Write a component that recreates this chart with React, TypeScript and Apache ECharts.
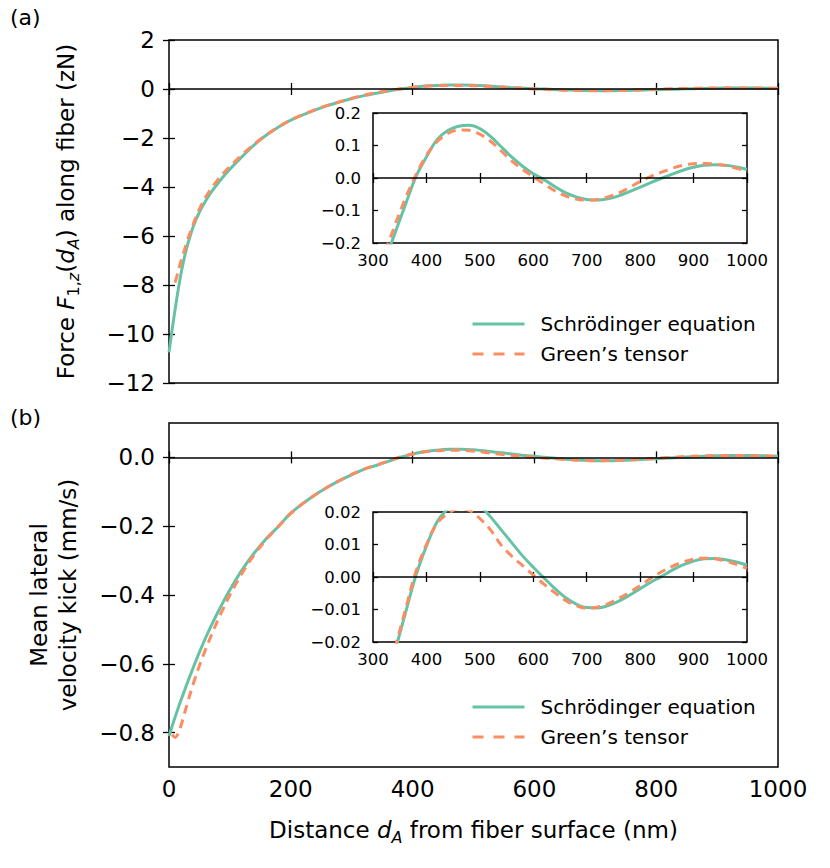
import React, { useEffect, useRef } from "react";
import * as echarts from "echarts";

// Distance from fiber surface (nm)
const distance = [
  0, 5, 10, 15, 20, 25, 30, 40, 50, 60, 70, 80, 90, 100, 120, 140, 160, 180, 200, 230,
  260, 290, 320, 340, 360, 380, 400, 420, 440, 460, 480, 500, 520, 540, 560, 580, 600,
  620, 640, 660, 680, 700, 720, 740, 760, 780, 800, 820, 840, 860, 880, 900, 920, 940,
  960, 980, 1000,
];

// Panel (a): force F_{1,z}(d_A) (zN)
const forceSchrodinger = [
  -10.75, -9.85, -9.0, -8.2, -7.5, -6.9, -6.4, -5.6, -5.02, -4.57, -4.19, -3.86, -3.55,
  -3.27, -2.76, -2.28, -1.88, -1.55, -1.27, -0.95, -0.68, -0.46,
  -0.27, -0.175, -0.085, 0.003, 0.065, 0.118, 0.146, 0.159, 0.162, 0.152, 0.128, 0.096,
  0.064, 0.036, 0.013, -0.005, -0.026, -0.045, -0.058, -0.066, -0.068, -0.064, -0.055,
  -0.042, -0.028, -0.014, -0.001, 0.012, 0.024, 0.033, 0.039, 0.041, 0.039, 0.034, 0.027,
];
const forceGreen = [
  null, null, -7.9, -7.45, -7.0, -6.6, -6.2, -5.5, -4.9, -4.42, -4.04, -3.71, -3.42,
  -3.16, -2.68, -2.25, -1.87, -1.54, -1.26, -0.94, -0.67, -0.45,
  -0.245, -0.15, -0.065, 0.008, 0.07, 0.112, 0.137, 0.148, 0.147, 0.135, 0.113, 0.083,
  0.052, 0.026, 0.004, -0.018, -0.039, -0.055, -0.065, -0.068, -0.066, -0.058, -0.046,
  -0.029, -0.011, 0.005, 0.018, 0.03, 0.039, 0.044, 0.045, 0.043, 0.038, 0.03, 0.021,
];

// Panel (b): mean lateral velocity kick (mm/s)
const kickSchrodinger = [
  -0.81, -0.782, -0.755, -0.729, -0.704, -0.68, -0.656, -0.61, -0.566, -0.525, -0.487,
  -0.451, -0.417, -0.385, -0.327, -0.278, -0.236, -0.2, -0.162, -0.121, -0.087, -0.059,
  -0.035, -0.0235, -0.0115, 0.0003, 0.0095, 0.017, 0.021, 0.0235, 0.024, 0.022, 0.0185,
  0.0145, 0.0105, 0.0065, 0.003, -0.0003, -0.0035, -0.0063, -0.0083, -0.0094, -0.0095,
  -0.0088, -0.0074, -0.0056, -0.0036, -0.0016, 0.0002, 0.0021, 0.0037, 0.0049, 0.0056,
  0.0057, 0.0053, 0.0046, 0.0037,
];
const kickGreen = [
  null, -0.806, -0.814, -0.803, -0.778, -0.747, -0.716, -0.657, -0.605, -0.558, -0.515,
  -0.474, -0.436, -0.4, -0.337, -0.283, -0.238, -0.2, -0.163, -0.121, -0.087, -0.058,
  -0.034, -0.0225, -0.0105, 0.0015, 0.01, 0.0165, 0.0195, 0.021, 0.0205, 0.018, 0.0145,
  0.0098, 0.0064, 0.0035, 0.0006, -0.0022, -0.0048, -0.0072, -0.0088, -0.0096, -0.0093,
  -0.0082, -0.0066, -0.0047, -0.0027, -0.0004, 0.0016, 0.0033, 0.0046, 0.0055, 0.0058,
  0.0056, 0.0049, 0.0039, 0.0027,
];

const seriesNames = ["Schrödinger equation", "Green’s tensor"];
const kickTickValues = [0, -0.2, -0.4, -0.6, -0.8];

const FONT = "DejaVu Sans";
const GREEN = "#66c2a5";
const ORANGE = "#fc8d62";

const fmt = (digits: number) => (v: number) =>
  (Math.abs(v) < 1e-9 ? 0 : v).toFixed(digits).replace("-", "\u2212");

const tick = (len: number) => ({
  show: true,
  inside: true,
  length: len,
  lineStyle: { color: "#000", width: 1.3 },
});

function axisPair(
  kind: "x" | "y",
  grid: number,
  min: number,
  max: number,
  interval: number | null,
  showLabels: boolean,
  fontSize: number,
  tickLen: number,
  margin: number,
  digits: number,
  custom?: number[]
) {
  const positions = kind === "x" ? ["bottom", "top"] : ["left", "right"];
  return positions.map((position, k) => {
    const ax: any = {
      type: "value",
      gridIndex: grid,
      position,
      min,
      max,
      axisLine: { show: false },
      splitLine: { show: false },
      axisTick: tick(tickLen),
      axisLabel: {
        show: k === 0 && showLabels,
        fontSize,
        fontFamily: FONT,
        color: "#000",
        margin,
        hideOverlap: false,
        formatter: fmt(digits),
      },
    };
    if (interval !== null) ax.interval = interval;
    if (custom) {
      ax.axisTick.customValues = custom;
      ax.axisLabel.customValues = custom;
    }
    return ax;
  });
}

const pairs = (ys: (number | null)[], minD = 0) =>
  distance
    .map((d, i) => [d, ys[i]])
    .filter((p) => p[1] !== null && (p[0] as number) >= minD);

const zeroLine = {
  silent: true,
  symbol: ["none", "none"],
  label: { show: false },
  lineStyle: { color: "#000", width: 1.5, type: "solid" },
  data: [{ yAxis: 0 }],
};

function lineSeries(name: string, data: any[], axisIndex: number, withZero: boolean) {
  const isGreen = name === seriesNames[0];
  const s: any = {
    name,
    type: "line",
    data,
    xAxisIndex: axisIndex,
    yAxisIndex: axisIndex,
    symbol: "none",
    showSymbol: false,
    smooth: 0.35,
    clip: true,
    lineStyle: isGreen
      ? { color: GREEN, width: 3, type: "solid" }
      : { color: ORANGE, width: 3, type: [9, 6] },
    itemStyle: { color: isGreen ? GREEN : ORANGE },
    z: isGreen ? 2 : 3,
  };
  if (withZero) s.markLine = zeroLine;
  return s;
}

const legendBase = (top: number) => ({
  data: [
    { name: seriesNames[0], lineStyle: { width: 3, type: "solid", color: GREEN } },
    { name: seriesNames[1], lineStyle: { width: 3, type: [11, 10], color: ORANGE } },
  ],
  orient: "vertical",
  left: 466,
  top,
  itemWidth: 52,
  itemHeight: 12,
  itemGap: 10,
  selectedMode: false,
  itemStyle: { opacity: 0 },
  textStyle: { fontSize: 20, fontFamily: FONT, color: "#000", padding: [0, 0, 0, 11] },
});

const richStyles = {
  i: { fontSize: 23, fontFamily: FONT, fontStyle: "italic", lineHeight: 30, fill: "#000" },
  s: { fontSize: 16, fontFamily: FONT, verticalAlign: "bottom", fill: "#000" },
  si: { fontSize: 16, fontFamily: FONT, fontStyle: "italic", verticalAlign: "bottom", fill: "#000" },
};

export default function App() {
  const ref = useRef<HTMLDivElement>(null);

  useEffect(() => {
    if (!ref.current) return;
    const chart = echarts.init(ref.current, undefined, { renderer: "svg" });

    const grids = [
      { left: 169, top: 40, width: 609, height: 343 },
      { left: 373, top: 113, width: 374, height: 130 },
      { left: 169, top: 423, width: 609, height: 344 },
      { left: 373, top: 512, width: 374, height: 130 },
    ].map((g) => ({
      ...g,
      show: true,
      borderColor: "#000",
      borderWidth: 1.5,
      backgroundColor: "transparent",
      containLabel: false,
    }));

    const xAxis = [
      ...axisPair("x", 0, 0, 1000, 200, false, 23, 6, 10, 0),
      ...axisPair("x", 1, 300, 1000, 100, true, 16.5, 5, 9, 0),
      ...axisPair("x", 2, 0, 1000, 200, true, 23, 6, 10, 0),
      ...axisPair("x", 3, 300, 1000, 100, true, 16.5, 5, 9, 0),
    ];
    const yAxis = [
      ...axisPair("y", 0, -12, 2, 2, true, 23, 6, 14, 0),
      ...axisPair("y", 1, -0.2, 0.2, 0.1, true, 16.5, 5, 12, 1),
      ...axisPair("y", 2, -0.9, 0.1, null, true, 23, 6, 14, 1, kickTickValues),
      ...axisPair("y", 3, -0.02, 0.02, 0.01, true, 16.5, 5, 12, 2),
    ];

    const series = [
      lineSeries(seriesNames[0], pairs(forceSchrodinger), 0, true),
      lineSeries(seriesNames[1], pairs(forceGreen), 0, false),
      lineSeries(seriesNames[0], pairs(forceSchrodinger, 280), 2, true),
      lineSeries(seriesNames[1], pairs(forceGreen, 280), 2, false),
      lineSeries(seriesNames[0], pairs(kickSchrodinger), 4, true),
      lineSeries(seriesNames[1], pairs(kickGreen), 4, false),
      lineSeries(seriesNames[0], pairs(kickSchrodinger, 280), 6, true),
      lineSeries(seriesNames[1], pairs(kickGreen, 280), 6, false),
    ];

    const textBase = { fontFamily: FONT, fontSize: 23, fill: "#000" };

    chart.setOption({
      animation: false,
      backgroundColor: "#fff",
      grid: grids,
      xAxis,
      yAxis,
      series,
      legend: [legendBase(309), legendBase(692)],
      graphic: [
        { type: "text", left: 10, top: 6, style: { ...textBase, fontSize: 22, text: "(a)" } },
        { type: "text", left: 10, top: 406, style: { ...textBase, fontSize: 22, text: "(b)" } },
        {
          type: "text",
          x: 66,
          y: 211.5,
          rotation: Math.PI / 2,
          style: {
            ...textBase,
            lineHeight: 30,
            align: "center",
            verticalAlign: "middle",
            text: "Force {i|F}{s|1,}{si|z}({i|d}{si|A}) along fiber (zN)",
            rich: richStyles,
          },
        },
        {
          type: "text",
          x: 53,
          y: 595,
          rotation: Math.PI / 2,
          style: {
            ...textBase,
            lineHeight: 29,
            align: "center",
            verticalAlign: "middle",
            text: "Mean lateral\nvelocity kick (mm/s)",
          },
        },
        {
          type: "text",
          x: 473.5,
          y: 830,
          style: {
            ...textBase,
            lineHeight: 30,
            align: "center",
            verticalAlign: "middle",
            text: "Distance {i|d}{si|A} from fiber surface (nm)",
            rich: richStyles,
          },
        },
      ],
    });

    return () => chart.dispose();
  }, []);

  return (
    <div
      ref={ref}
      style={{ position: "absolute", left: 0, top: 0, width: 830, height: 868 }}
    />
  );
}
